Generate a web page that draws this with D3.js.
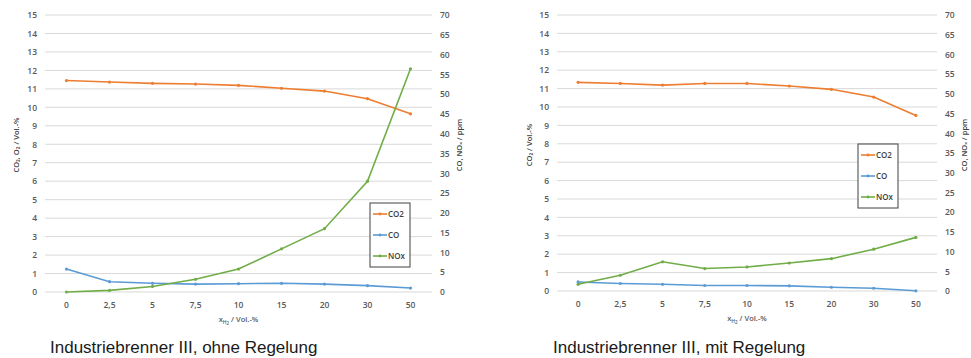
<!DOCTYPE html>
<html>
<head>
<meta charset="utf-8">
<script src="https://cdn.jsdelivr.net/npm/d3@7"></script>
<style>
  body { margin: 0; background: #fff; }
  svg text { font-family: "Open Sans", "Liberation Sans", sans-serif; }
  .tick text { fill: #595959; font-size: 8.5px; font-weight: 600; }
  .caption { font-family: "Liberation Sans", Arial, sans-serif !important; font-size: 17px; fill: #1a1a1a; }
</style>
</head>
<body>
<svg id="chart" width="971" height="358"></svg>
<script>
// categories on x (H2 share, Vol.-%)
var categories = ["0", "2,5", "5", "7,5", "10", "15", "20", "30", "50"];
var leftTicks = d3.range(0, 16, 1);
var rightTicks = d3.range(0, 71, 5);
var seriesNames = ["CO2", "CO", "NOx"];

// chart 1: ohne Regelung
var co2Ohne = [11.45, 11.37, 11.3, 11.26, 11.19, 11.03, 10.88, 10.47, 9.65];
var coOhne  = [5.8, 2.6, 2.2, 2.0, 2.1, 2.2, 2.0, 1.6, 1.0];
var noxOhne = [0, 0.4, 1.4, 3.2, 5.8, 10.9, 16.0, 28.0, 56.4];

// chart 2: mit Regelung
var co2Mit = [11.34, 11.28, 11.19, 11.28, 11.28, 11.14, 10.96, 10.54, 9.54];
var coMit  = [2.3, 1.9, 1.7, 1.4, 1.4, 1.3, 0.95, 0.7, 0.05];
var noxMit = [1.7, 4.0, 7.4, 5.7, 6.1, 7.1, 8.2, 10.6, 13.6];

var colors = {CO2: "#ed7d31", CO: "#5b9bd5", NOx: "#70ad47"};

let svg = d3.select("#chart");

function drawChart(cfg) {
  let g = svg.append("g");

  let x = d3.scaleBand()
    .domain(categories)
    .range([cfg.left, cfg.right]);

  let yL = d3.scaleLinear().domain([0, 15]).range([cfg.bottom, cfg.top]);
  let yR = d3.scaleLinear().domain([0, 70]).range([cfg.bottom, cfg.top]);

  // gridlines
  g.append("g")
    .selectAll("line")
    .data(leftTicks)
    .enter().append("line")
    .attr("x1", cfg.left)
    .attr("x2", cfg.right)
    .attr("y1", d => yL(d))
    .attr("y2", d => yL(d))
    .attr("stroke", "#d9d9d9")
    .attr("stroke-width", 1);

  // left axis
  let axL = g.append("g")
    .attr("transform", "translate(" + cfg.left + ",0)")
    .call(d3.axisLeft(yL).tickValues(leftTicks).tickSize(0).tickPadding(8));
  axL.select(".domain").remove();

  // right axis
  let axR = g.append("g")
    .attr("transform", "translate(" + cfg.right + ",0)")
    .call(d3.axisRight(yR).tickValues(rightTicks).tickSize(0).tickPadding(8));
  axR.select(".domain").remove();

  // x axis
  let axX = g.append("g")
    .attr("transform", "translate(0," + cfg.bottom + ")")
    .call(d3.axisBottom(x).tickSize(0).tickPadding(10));
  axX.select(".domain").remove();

  let cx = d => x(d) + x.bandwidth() / 2;

  let series = [
    {name: "CO2", values: cfg.co2, y: yL},
    {name: "CO", values: cfg.co, y: yR},
    {name: "NOx", values: cfg.nox, y: yR}
  ];

  series.forEach(function(s) {
    let line = d3.line()
      .x((d, i) => cx(categories[i]))
      .y(d => s.y(d));
    g.append("path")
      .datum(s.values)
      .attr("d", line)
      .attr("fill", "none")
      .attr("stroke", colors[s.name])
      .attr("stroke-width", 1.6);
    g.append("g")
      .selectAll("circle")
      .data(s.values)
      .enter().append("circle")
      .attr("cx", (d, i) => cx(categories[i]))
      .attr("cy", d => s.y(d))
      .attr("r", 1.6)
      .attr("fill", colors[s.name]);
  });

  // axis titles
  let mid = (cfg.left + cfg.right) / 2;
  let xt = g.append("text")
    .attr("x", mid)
    .attr("y", cfg.bottom + 30)
    .attr("text-anchor", "middle")
    .attr("fill", "#595959")
    .style("font-size", "7.5px")
    .style("font-weight", "600");
  xt.append("tspan").text("x");
  xt.append("tspan").attr("dy", 2).style("font-size", "5px").text("H");
  xt.append("tspan").attr("dy", 1).style("font-size", "4.5px").text("2");
  xt.append("tspan").attr("dy", -3).text(" / Vol.-%");

  g.append("text")
    .attr("transform", "translate(" + cfg.ylTitleX + "," + 145 + ") rotate(-90)")
    .attr("text-anchor", "middle")
    .attr("fill", "#404040")
    .style("font-size", "7.5px")
    .style("font-weight", "600")
    .text(cfg.ylTitle);

  g.append("text")
    .attr("transform", "translate(" + cfg.yrTitleX + "," + 145 + ") rotate(-90)")
    .attr("text-anchor", "middle")
    .attr("fill", "#404040")
    .style("font-size", "7.5px")
    .style("font-weight", "600")
    .text("CO, NOₓ / ppm");

  // legend
  let leg = g.append("g")
    .attr("transform", "translate(" + cfg.legX + "," + cfg.legY + ")");
  leg.append("rect")
    .attr("width", 40)
    .attr("height", 64)
    .attr("fill", "#fff")
    .attr("stroke", "#404040")
    .attr("stroke-width", 1);
  let items = leg.selectAll(".item")
    .data(seriesNames)
    .enter().append("g")
    .attr("class", "item")
    .attr("transform", (d, i) => "translate(0," + (11 + i * 21) + ")");
  items.append("line")
    .attr("x1", 3).attr("x2", 17)
    .attr("stroke", d => colors[d])
    .attr("stroke-width", 1.6);
  items.append("circle")
    .attr("cx", 10).attr("r", 1.4)
    .attr("fill", d => colors[d]);
  items.append("text")
    .attr("x", 18)
    .attr("y", 3)
    .attr("fill", "#404040")
    .style("font-size", "8px")
    .style("font-weight", "600")
    .text(d => d);

  // caption
  g.append("text")
    .attr("class", "caption")
    .attr("x", cfg.capX)
    .attr("y", 353)
    .text(cfg.caption);
}

drawChart({
  left: 45, right: 432, top: 15, bottom: 292,
  co2: co2Ohne, co: coOhne, nox: noxOhne,
  ylTitle: "CO₂, O₂ / Vol.-%", ylTitleX: 19, yrTitleX: 462,
  legX: 370, legY: 203,
  capX: 50, caption: "Industriebrenner III, ohne Regelung"
});

drawChart({
  left: 557, right: 937, top: 15, bottom: 291,
  co2: co2Mit, co: coMit, nox: noxMit,
  ylTitle: "CO₂ / Vol.-%", ylTitleX: 532, yrTitleX: 967,
  legX: 858, legY: 144,
  capX: 553, caption: "Industriebrenner III, mit Regelung"
});
</script>
</body>
</html>
